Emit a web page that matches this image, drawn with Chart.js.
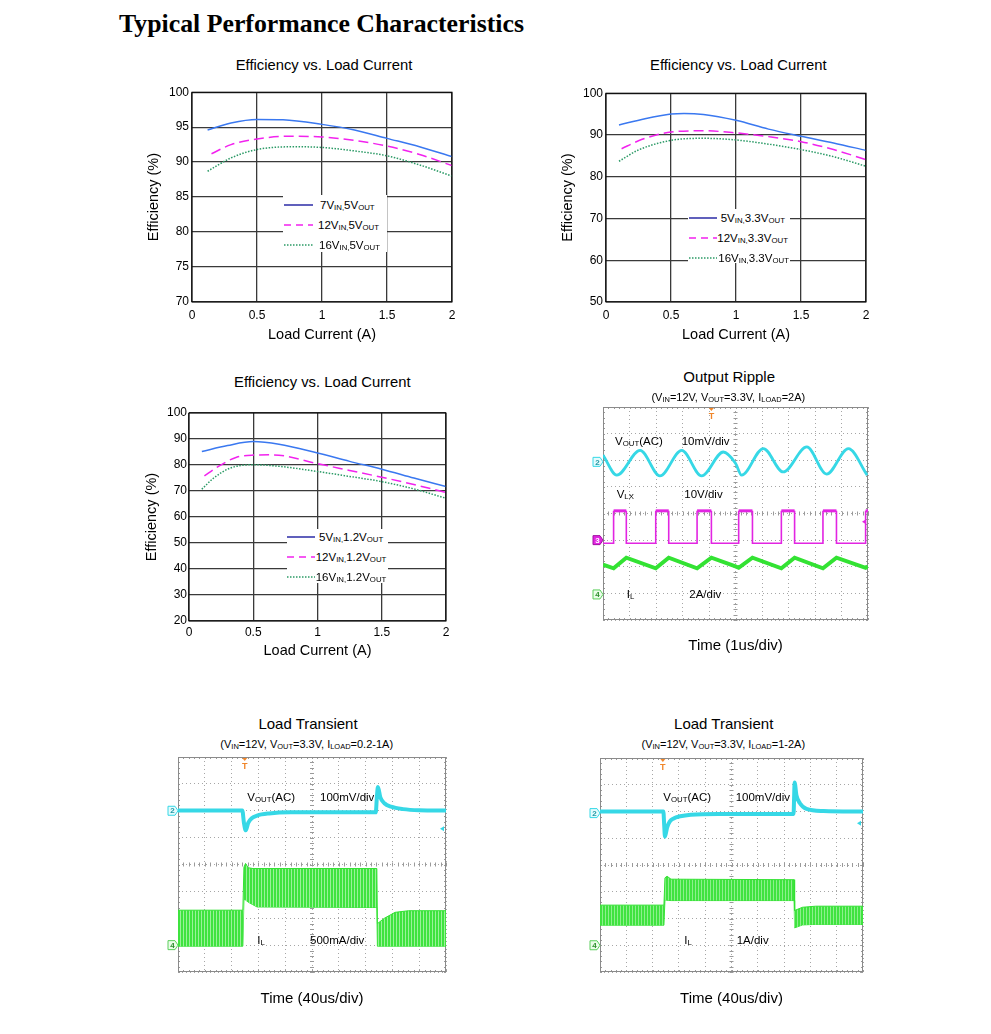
<!DOCTYPE html>
<html>
<head>
<meta charset="utf-8">
<title>Typical Performance Characteristics</title>
<script src="https://cdn.jsdelivr.net/npm/chart.js@4.4.1/dist/chart.umd.min.js"></script>
<style>
  body { margin: 0; background: #fff; }
  #page { position: relative; width: 991px; height: 1034px; overflow: hidden;
          font-family: "Liberation Sans", Arial, sans-serif; color: #000; }
  #page canvas { position: absolute; z-index: 1; }
  .txt { position: absolute; white-space: nowrap; z-index: 5; }
  .sub { font-size: 68%; vertical-align: -1px; }
  .heading { position: absolute; left: 119px; top: 11px; line-height: 25px; white-space: nowrap;
             font-family: "Liberation Serif", "Times New Roman", serif; font-weight: bold; font-size: 25.8px; }
  .legend { position: absolute; background: #fff; z-index: 5; }
  .legend .row { position: absolute; white-space: nowrap; font-size: 11.5px; line-height: 14px; }
  .legend svg { position: absolute; overflow: visible; }
</style>
</head>
<body>
<div id="page">
  <div class="heading">Typical Performance Characteristics</div>
</div>
<script>
// ---------- efficiency curves: [load current (A), efficiency (%)] ----------
const eff5v_7vin  = [[0.12,94.6],[0.3,95.6],[0.5,96.1],[0.7,96.05],[1.0,95.4],[1.25,94.6],[1.5,93.4],[1.75,92.2],[2.0,90.8]];
const eff5v_12vin = [[0.15,91.2],[0.3,92.5],[0.5,93.3],[0.75,93.7],[1.0,93.6],[1.25,93.1],[1.5,92.3],[1.75,91.1],[2.0,89.5]];
const eff5v_16vin = [[0.12,88.7],[0.3,90.6],[0.5,91.8],[0.8,92.2],[1.0,92.1],[1.25,91.6],[1.5,90.9],[1.75,89.6],[2.0,88.0]];

const eff33_5vin  = [[0.1,92.4],[0.3,93.9],[0.5,95.0],[0.6,95.15],[0.75,94.9],[1.0,93.5],[1.25,91.4],[1.5,89.7],[1.75,88.1],[2.0,86.3]];
const eff33_12vin = [[0.12,86.7],[0.25,88.6],[0.4,90.1],[0.5,90.7],[0.75,91.0],[1.0,90.5],[1.25,89.6],[1.5,88.4],[1.75,86.5],[2.0,84.1]];
const eff33_16vin = [[0.1,83.7],[0.25,86.4],[0.5,88.7],[0.75,89.2],[1.0,88.8],[1.25,87.8],[1.5,86.5],[1.75,84.8],[2.0,82.5]];

const eff12_5vin  = [[0.1,85.2],[0.3,87.5],[0.5,89.0],[0.7,88.0],[1.0,84.6],[1.25,81.4],[1.5,78.4],[1.75,75.0],[2.0,71.7]];
const eff12_12vin = [[0.12,75.8],[0.22,79.2],[0.37,83.0],[0.5,83.8],[0.65,83.9],[1.0,80.5],[1.25,77.9],[1.5,75.3],[1.75,72.5],[2.0,69.4]];
const eff12_16vin = [[0.1,70.7],[0.19,74.9],[0.32,78.8],[0.5,80.1],[0.7,79.5],[1.0,77.5],[1.25,75.6],[1.5,73.6],[1.75,70.8],[2.0,67.2]];

const legend5v  = ['7V<span class=sub>IN,</span>5V<span class=sub>OUT</span>', '12V<span class=sub>IN,</span>5V<span class=sub>OUT</span>', '16V<span class=sub>IN,</span>5V<span class=sub>OUT</span>'];
const legend33  = ['5V<span class=sub>IN,</span>3.3V<span class=sub>OUT</span>', '12V<span class=sub>IN,</span>3.3V<span class=sub>OUT</span>', '16V<span class=sub>IN,</span>3.3V<span class=sub>OUT</span>'];
const legend12  = ['5V<span class=sub>IN,</span>1.2V<span class=sub>OUT</span>', '12V<span class=sub>IN,</span>1.2V<span class=sub>OUT</span>', '16V<span class=sub>IN,</span>1.2V<span class=sub>OUT</span>'];

// ---------- scope traces, in divisions (x 0..10, y -4..4) ----------
// output ripple
const rippleVout = [[0,2.2],[0.52,1.44],[1.40,2.37],[2.15,1.41],[2.97,2.37],[3.72,1.41],[4.54,2.31],[5.0,1.89],
                    [5.23,1.44],[6.05,2.44],[6.80,1.56],[7.69,2.50],[8.44,1.48],[9.26,2.44],[9.97,1.44]];
const vlxRise = [0.40, 1.99, 3.55, 5.12, 6.73, 8.30, 9.91];
const vlxFall = [0.88, 2.48, 4.09, 5.64, 7.23, 8.81];
const vlxHigh = 0.1, vlxLow = -1.12;
const rippleIl = [[0,-1.92],[0.40,-2.06],[0.88,-1.66],[1.99,-2.06],[2.48,-1.66],[3.55,-2.06],[4.09,-1.66],[5.0,-1.99],
                  [5.12,-2.04],[5.64,-1.66],[6.73,-2.06],[7.23,-1.66],[8.30,-2.06],[8.81,-1.66],[9.91,-2.04],[10,-1.99]];

// load transient 0.2-1A
const tr1Vout = [[0,2.01],[2.40,2.01],[2.46,1.55],[2.53,1.27],[2.62,1.55],[2.75,1.72],[2.95,1.82],[3.4,1.90],[4.2,1.94],
                 [7.38,1.94],[7.42,2.5],[7.46,2.88],[7.55,2.5],[7.7,2.28],[7.95,2.15],[8.4,2.06],[9.0,2.02],[10,2.01]];
const tr1X   = [0,    2.42, 2.46, 2.52, 2.62, 2.8,  2.95, 7.42, 7.44, 7.7,  8.1,  8.6,  10];
const tr1Top = [-1.70,-1.70,-0.10, 0.04,-0.12,-0.15,-0.15,-0.15,-2.20,-2.00,-1.78,-1.72,-1.72];
const tr1Bot = [-3.04,-3.04,-1.30,-1.32,-1.40,-1.50,-1.58,-1.60,-3.04,-3.04,-3.04,-3.04,-3.04];

// load transient 1-2A
const tr2Vout = [[0,2.0],[2.41,2.0],[2.44,1.5],[2.47,1.06],[2.55,1.4],[2.65,1.62],[2.8,1.74],[3.05,1.82],[3.45,1.88],[4.5,1.91],
                 [7.36,1.91],[7.38,2.5],[7.40,3.08],[7.47,2.6],[7.6,2.31],[7.85,2.1],[8.5,2.02],[10,2.0]];
const tr2X   = [0,    2.43, 2.47, 2.55, 2.7,  7.38, 7.40, 7.7,  8.2,  10];
const tr2Top = [-1.50,-1.50,-0.48,-0.42,-0.53,-0.55,-1.70,-1.58,-1.54,-1.54];
const tr2Bot = [-2.25,-2.25,-1.30,-1.32,-1.33,-1.33,-2.35,-2.24,-2.22,-2.22];

// ---------- helpers ----------
Chart.defaults.font.family = '"Liberation Sans", Arial, sans-serif';
Chart.defaults.color = '#000';

const page = document.getElementById('page');

function put(html, x, y, size, align) {
  const d = document.createElement('div');
  d.className = 'txt';
  d.innerHTML = html;
  d.style.fontSize = size + 'px';
  d.style.lineHeight = (size * 1.2) + 'px';
  d.style.top = (y - size * 0.6 + 1) + 'px';
  if (align === 'center') {
    d.style.left = (x - 300) + 'px'; d.style.width = '600px'; d.style.textAlign = 'center';
  } else {
    d.style.left = x + 'px';
  }
  page.appendChild(d);
}

function makeCanvas(left, top, w, h) {
  const c = document.createElement('canvas');
  c.width = w; c.height = h;
  c.style.left = left + 'px'; c.style.top = top + 'px';
  c.style.width = w + 'px'; c.style.height = h + 'px';
  page.appendChild(c);
  return c;
}

const pts = arr => arr.map(([x, y]) => ({x, y}));
const zip = (xs, ys) => xs.map((x, i) => ({x, y: ys[i]}));

// ---------- efficiency charts ----------
const effColors = ['#3a78f0', '#f222ee', '#2b9a66'];
const effDash = [[], [10, 5], [1.5, 1.5]];
const sampleColors = ['#2b2ba6', '#f222ee', '#2b9a66'];
const sampleDash = ['', '7 5', '1.5 1.5'];

const plotBox = {
  id: 'plotBox',
  afterDraw(chart) {
    const a = chart.chartArea, ctx = chart.ctx;
    ctx.save();
    ctx.strokeStyle = '#000';
    ctx.lineWidth = 1;
    ctx.strokeRect(a.left, a.top, a.right - a.left, a.bottom - a.top);
    ctx.restore();
  }
};

function effChart(p) {
  const padT = 10, padR = 10;
  const cv = makeCanvas(p.left - p.yw, p.top - padT, p.yw + p.w + padR, padT + p.h + p.xh);
  new Chart(cv, {
    type: 'line',
    data: {
      datasets: p.series.map((s, i) => ({
        data: pts(s),
        borderColor: effColors[i],
        borderWidth: 1.5,
        borderDash: effDash[i],
        pointRadius: 0,
        cubicInterpolationMode: 'monotone',
        fill: false
      }))
    },
    options: {
      responsive: false,
      animation: false,
      layout: { padding: { left: 0, top: padT, right: padR, bottom: 0 } },
      plugins: { legend: { display: false }, tooltip: { enabled: false } },
      scales: {
        x: {
          type: 'linear', min: 0, max: 2,
          ticks: { stepSize: 0.5, padding: p.xpad, font: { size: 12 }, callback: v => String(v) },
          grid: { color: '#3a3a3a', lineWidth: 1.3, drawTicks: false },
          border: { display: false },
          title: { display: true, text: 'Load Current (A)', font: { size: 14.5 }, padding: 0 },
          afterFit: s => { s.height = p.xh; }
        },
        y: {
          min: p.yMin, max: 100,
          ticks: { stepSize: p.yStep, padding: p.ypad, font: { size: 12 } },
          grid: { color: '#3a3a3a', lineWidth: 1.3, drawTicks: false },
          border: { display: false },
          title: { display: true, text: 'Efficiency (%)', font: { size: 14.5 }, padding: 0 },
          afterFit: s => { s.width = p.yw; }
        }
      }
    },
    plugins: [plotBox]
  });

  // white legend box sitting on the grid, as in the datasheet
  const lg = p.legend;
  const box = document.createElement('div');
  box.className = 'legend';
  box.style.left = lg.left + 'px'; box.style.top = lg.top + 'px';
  box.style.width = lg.w + 'px'; box.style.height = lg.h + 'px';
  let html = '';
  p.labels.forEach((label, i) => {
    const ry = lg.rows[i] - lg.top;
    html += '<svg width="' + lg.sw + '" height="4" style="left:' + (lg.sx - lg.left) + 'px;top:' + (ry - 2) + 'px">' +
            '<line x1="0" y1="2" x2="' + lg.sw + '" y2="2" stroke="' + sampleColors[i] + '" stroke-width="1.5"' +
            (sampleDash[i] ? ' stroke-dasharray="' + sampleDash[i] + '"' : '') + '/></svg>';
    html += '<div class="row" style="left:' + (lg.tx[i] - lg.left) + 'px;top:' + (ry - 7) + 'px">' + label + '</div>';
  });
  box.innerHTML = html;
  page.appendChild(box);
}

put('Efficiency vs. Load Current', 324, 65, 14.8, 'center');
effChart({
  left: 192, top: 92, w: 260, h: 210, yw: 47, xh: 42, xpad: 6, ypad: 3,
  yMin: 70, yStep: 5, series: [eff5v_7vin, eff5v_12vin, eff5v_16vin], labels: legend5v,
  legend: { left: 283, top: 195, w: 104, h: 57, rows: [205, 225, 245], sx: 284, sw: 29, tx: [320, 318, 319] }
});

put('Efficiency vs. Load Current', 738.3, 65, 14.8, 'center');
effChart({
  left: 606, top: 93, w: 260, h: 209, yw: 47, xh: 42, xpad: 6, ypad: 3,
  yMin: 50, yStep: 10, series: [eff33_5vin, eff33_12vin, eff33_16vin], labels: legend33,
  legend: { left: 688, top: 209, w: 102, h: 54, rows: [217.7, 237.7, 258], sx: 688.5, sw: 28, tx: [720.7, 717.3, 718.3] }
});

put('Efficiency vs. Load Current', 322.3, 382.3, 14.8, 'center');
effChart({
  left: 189, top: 413, w: 257, h: 208, yw: 46, xh: 39, xpad: 4.5, ypad: 2,
  yMin: 20, yStep: 10, series: [eff12_5vin, eff12_12vin, eff12_16vin], labels: legend12,
  legend: { left: 287, top: 529, w: 101, h: 54, rows: [537.3, 557.3, 577.3], sx: 287, sw: 28, tx: [319, 315.7, 315.7] }
});

// ---------- oscilloscope captures ----------
const CYAN = '#36d8e6', MAG = '#e225e2', GRN = '#33e233';

function stripes(base, streak) {
  const c = document.createElement('canvas');
  c.width = 3; c.height = 4;
  const g = c.getContext('2d');
  g.fillStyle = base; g.fillRect(0, 0, 3, 4);
  g.fillStyle = streak; g.fillRect(2, 0, 1, 4);
  return g.createPattern(c, 'repeat');
}

function squareWave(rise, fall, lo, hi, start, end) {
  const edges = rise.map(t => [t, true]).concat(fall.map(t => [t, false])).sort((a, b) => a[0] - b[0]);
  let level = edges[0][1] ? lo : hi;
  const out = [{x: start, y: level}];
  edges.forEach(([t, up]) => {
    out.push({x: t, y: level});
    level = up ? hi : lo;
    out.push({x: t, y: level});
  });
  out.push({x: end, y: level});
  return out;
}

const chStyle = {
  2: { fill: '#e4fbfd', line: CYAN, text: '#239aa6' },
  3: { fill: MAG, line: '#a010a0', text: '#fff' },
  4: { fill: '#eafde9', line: '#5ccf5c', text: '#2d8f2d' }
};

function scopeFrame(m) {
  return {
    id: 'scopeFrame',
    beforeDatasetsDraw(chart) {
      const { ctx, chartArea: a } = chart;
      const sx = chart.scales.x, sy = chart.scales.y;
      ctx.save();
      ctx.strokeStyle = '#9a9a9a';
      ctx.lineWidth = 1;
      ctx.beginPath();
      const cy = sy.getPixelForValue(0), cx = sx.getPixelForValue(5);
      for (let v = 0; v <= 50; v++) {
        const px = Math.round(sx.getPixelForValue(v / 5)) + 0.5;
        ctx.moveTo(px, cy - 2); ctx.lineTo(px, cy + 2);
        ctx.moveTo(px, a.top); ctx.lineTo(px, a.top + 2);
        ctx.moveTo(px, a.bottom); ctx.lineTo(px, a.bottom - 2);
      }
      for (let v = -20; v <= 20; v++) {
        const py = Math.round(sy.getPixelForValue(v / 5)) + 0.5;
        ctx.moveTo(cx - 2, py); ctx.lineTo(cx + 2, py);
        ctx.moveTo(a.left, py); ctx.lineTo(a.left + 2, py);
        ctx.moveTo(a.right, py); ctx.lineTo(a.right - 2, py);
      }
      ctx.stroke();
      ctx.strokeStyle = '#8a8a8a';
      ctx.strokeRect(Math.round(a.left) + 0.5, Math.round(a.top) + 0.5,
                     Math.round(a.right - a.left) - 1, Math.round(a.bottom - a.top) - 1);
      ctx.restore();
    },
    afterDatasetsDraw(chart) {
      const { ctx, chartArea: a } = chart;
      const sx = chart.scales.x, sy = chart.scales.y;
      ctx.save();
      // channel reference tags on the left edge
      m.channels.forEach(c => {
        const st = chStyle[c.n];
        const y = sy.getPixelForValue(c.y), x = a.left - 10;
        ctx.beginPath();
        ctx.moveTo(x, y - 4.5); ctx.lineTo(x + 7, y - 4.5); ctx.lineTo(x + 10, y);
        ctx.lineTo(x + 7, y + 4.5); ctx.lineTo(x, y + 4.5); ctx.closePath();
        ctx.fillStyle = st.fill; ctx.fill();
        ctx.strokeStyle = st.line; ctx.lineWidth = 1; ctx.stroke();
        ctx.fillStyle = st.text;
        ctx.font = 'bold 8px "Liberation Sans", Arial, sans-serif';
        ctx.textAlign = 'center'; ctx.textBaseline = 'middle';
        ctx.fillText(c.n, x + 4.5, y + 0.5);
      });
      // trigger position marker
      const tx = sx.getPixelForValue(m.trigger);
      ctx.fillStyle = '#f0862a';
      ctx.beginPath();
      ctx.moveTo(tx - 2.5, a.top + 1); ctx.lineTo(tx + 2.5, a.top + 1); ctx.lineTo(tx, a.top + 4);
      ctx.closePath(); ctx.fill();
      ctx.font = 'bold 9px "Liberation Sans", Arial, sans-serif';
      ctx.textAlign = 'center'; ctx.textBaseline = 'middle';
      ctx.fillText('T', tx, a.top + 10);
      // trigger level arrows on the right edge
      m.arrows.forEach(r => {
        const y = sy.getPixelForValue(r.y);
        ctx.fillStyle = r.color;
        ctx.beginPath();
        ctx.moveTo(a.right - 6, y); ctx.lineTo(a.right - 2, y - 2.5); ctx.lineTo(a.right - 2, y + 2.5);
        ctx.closePath(); ctx.fill();
      });
      ctx.restore();
    }
  };
}

function scopeChart(p) {
  const padL = 12, padT = 4, padR = 6;
  const cv = makeCanvas(p.left - padL, p.top - padT, padL + p.w + padR, padT + p.h + p.xh);
  const grid = { color: '#a6a6a6', lineWidth: 1, drawTicks: false };
  new Chart(cv, {
    type: 'line',
    data: { datasets: p.datasets },
    options: {
      responsive: false,
      animation: false,
      layout: { padding: { left: padL, top: padT, right: padR, bottom: 0 } },
      plugins: { legend: { display: false }, tooltip: { enabled: false } },
      elements: { point: { radius: 0 } },
      scales: {
        x: {
          type: 'linear', min: 0, max: 10,
          ticks: { display: false, stepSize: 1 },
          grid: grid,
          border: { display: false, dash: [1, 3] },
          title: { display: true, text: p.time, font: { size: 15 }, padding: 0 },
          afterFit: s => { s.height = p.xh; }
        },
        y: {
          min: -4, max: 4,
          ticks: { display: false, stepSize: 1 },
          grid: grid,
          border: { display: false, dash: [1, 3] },
          afterFit: s => { s.width = 0; }
        }
      }
    },
    plugins: [scopeFrame(p.marks)]
  });
}

// output ripple
put('Output Ripple', 729.2, 376, 15, 'center');
put('(V<span class=sub>IN</span>=12V, V<span class=sub>OUT</span>=3.3V, I<span class=sub>LOAD</span>=2A)', 728.3, 396.7, 11, 'center');
scopeChart({
  left: 603, top: 407, w: 265, h: 213, xh: 35, time: 'Time (1us/div)',
  datasets: [
    { data: pts(rippleVout), borderColor: CYAN, borderWidth: 2.8, cubicInterpolationMode: 'monotone' },
    { data: squareWave(vlxRise, vlxFall, vlxLow, vlxHigh, 0, 10), borderColor: MAG, borderWidth: 1.6, tension: 0,
      // the switch node rings at the top, so the high level looks thicker
      segment: { borderWidth: c => (c.p0.parsed.y === vlxHigh && c.p1.parsed.y === vlxHigh) ? 3 : 1.6 } },
    { data: pts(rippleIl), borderColor: GRN, borderWidth: 4, tension: 0 }
  ],
  marks: { channels: [{ n: 2, y: 1.94 }, { n: 3, y: -1.0 }, { n: 4, y: -3.04 }], trigger: 4.09, arrows: [{ y: -0.31, color: MAG }] }
});
put('V<span class=sub>OUT</span>(AC)', 615, 441, 11.5);
put('10mV/div', 681.7, 441, 11.5);
put('V<span class=sub>LX</span>', 616.7, 494, 11.5);
put('10V/div', 684.3, 494, 11.5);
put('I<span class=sub>L</span>', 626.7, 594, 11.5);
put('2A/div', 689.3, 594, 11.5);

// load transient 0.2-1A
put('Load Transient', 308, 723.3, 15, 'center');
put('(V<span class=sub>IN</span>=12V, V<span class=sub>OUT</span>=3.3V, I<span class=sub>LOAD</span>=0.2-1A)', 306.7, 743.3, 11, 'center');
scopeChart({
  left: 178, top: 757, w: 268, h: 215, xh: 36, time: 'Time (40us/div)',
  datasets: [
    { data: pts(tr1Vout), borderColor: CYAN, borderWidth: 4, cubicInterpolationMode: 'monotone' },
    { data: zip(tr1X, tr1Top), borderColor: GRN, borderWidth: 1, tension: 0, fill: '+1', backgroundColor: stripes('#3fe33f', '#9af29a') },
    { data: zip(tr1X, tr1Bot), borderColor: GRN, borderWidth: 1, tension: 0, fill: false }
  ],
  marks: { channels: [{ n: 2, y: 2.0 }, { n: 4, y: -3.0 }], trigger: 2.49, arrows: [{ y: 1.33, color: CYAN }] }
});
put('V<span class=sub>OUT</span>(AC)', 247.3, 796.7, 11.5);
put('100mV/div', 320, 796.7, 11.5);
put('I<span class=sub>L</span>', 257.3, 940, 11.5);
put('500mA/div', 310, 940, 11.5);

// load transient 1-2A
put('Load Transient', 723.7, 723.3, 15, 'center');
put('(V<span class=sub>IN</span>=12V, V<span class=sub>OUT</span>=3.3V, I<span class=sub>LOAD</span>=1-2A)', 723.3, 743.3, 11, 'center');
scopeChart({
  left: 600, top: 758, w: 263, h: 214, xh: 36, time: 'Time (40us/div)',
  datasets: [
    { data: pts(tr2Vout), borderColor: CYAN, borderWidth: 4, cubicInterpolationMode: 'monotone' },
    { data: zip(tr2X, tr2Top), borderColor: GRN, borderWidth: 1, tension: 0, fill: '+1', backgroundColor: stripes('#3fe33f', '#8cf08c') },
    { data: zip(tr2X, tr2Bot), borderColor: GRN, borderWidth: 1, tension: 0, fill: false }
  ],
  marks: { channels: [{ n: 2, y: 1.94 }, { n: 4, y: -3.0 }], trigger: 2.39, arrows: [{ y: 1.56, color: CYAN }] }
});
put('V<span class=sub>OUT</span>(AC)', 663.3, 796.7, 11.5);
put('100mV/div', 735.7, 796.7, 11.5);
put('I<span class=sub>L</span>', 684.3, 940, 11.5);
put('1A/div', 736.7, 940, 11.5);
</script>
</body>
</html>
